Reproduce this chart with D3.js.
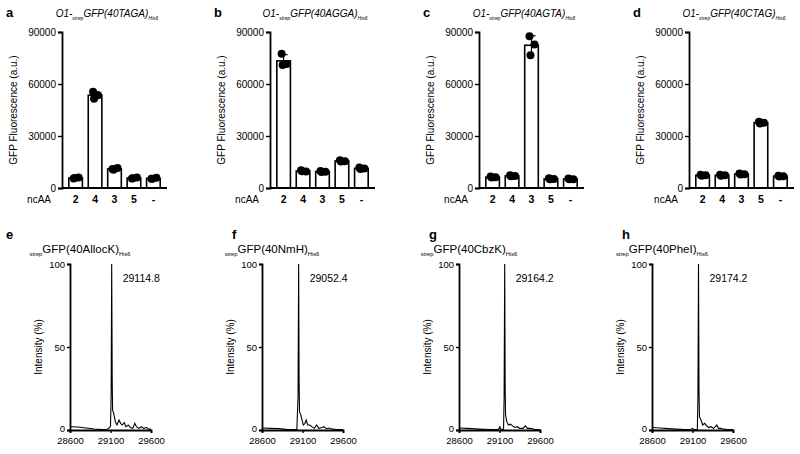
<!DOCTYPE html>
<html>
<head>
<meta charset="utf-8">
<script src="https://cdn.jsdelivr.net/npm/d3@7"></script>
<style>
  body { margin: 0; background: #fff; }
  svg { font-family: "Liberation Sans", Arial, sans-serif; }
</style>
</head>
<body>
<svg id="fig" width="800" height="454"></svg>
<script>
// ---- data ----
const ncaa = ['2', '4', '3', '5', '-'];
const topLetters = ['a', 'b', 'c', 'd'];
const codons = ['TAGA', 'AGGA', 'AGTA', 'CTAG'];
const fluorTicks = [0, 30000, 60000, 90000];

// three replicates per ncAA condition
const repsA = [[5500, 6100, 5700], [55500, 53500, 51500], [11000, 11600, 10500], [5500, 6100, 5600], [5400, 5900, 5300]];
const repsB = [[77500, 71500, 71000], [10300, 9500, 9600], [9800, 9400, 9300], [16000, 15500, 15300], [11800, 11200, 11000]];
const repsC = [[6600, 6200, 6100], [7300, 6900, 6800], [87600, 82800, 76600], [5600, 5200, 5000], [5500, 5100, 5000]];
const repsD = [[7600, 7300, 7100], [7600, 7300, 7100], [8300, 8000, 7800], [38200, 37600, 37200], [7100, 6800, 6600]];
const topReps = [repsA, repsB, repsC, repsD];

const bottomLetters = ['e', 'f', 'g', 'h'];
const residues = ['AllocK', 'NmH', 'CbzK', 'PheI'];
const peakLabels = ['29114.8', '29052.4', '29164.2', '29174.2'];
const massTicks = [28600, 29100, 29600];
const intensityTicks = [0, 50, 100];

// deconvoluted spectra [mass, intensity %]
const specE = [[28600, 2], [28700, 1.8], [28800, 1.2], [28900, 0.6], [29000, 0.2], [29060, 0.3], [29090, 1.5], [29100, 2.5], [29108, 20], [29114.8, 100], [29121, 30], [29126, 12], [29140, 10], [29160, 5], [29180, 3], [29205, 6], [29225, 4], [29245, 3], [29270, 4.5], [29290, 2], [29320, 3], [29345, 1.5], [29375, 1], [29400, 4], [29420, 2], [29450, 1], [29480, 2], [29510, 1], [29545, 1.5], [29570, 0.5], [29600, 0.5]];
const specF = [[28600, 1.2], [28700, 1], [28800, 0.8], [28900, 0.4], [28990, 0.2], [29030, 0.3], [29045, 20], [29052.4, 100], [29058, 30], [29063, 11], [29080, 9], [29095, 6], [29110, 3], [29130, 4], [29145, 6], [29165, 3], [29190, 3], [29215, 2], [29245, 1], [29275, 3], [29300, 1], [29340, 1.5], [29365, 2], [29395, 0.8], [29430, 1.2], [29470, 0.5], [29520, 0.3], [29600, 0.2]];
const specG = [[28600, 1.2], [28700, 1], [28800, 0.7], [28900, 0.4], [29000, 0.2], [29080, 0.2], [29095, 1], [29105, 2], [29115, 0.5], [29150, 0.3], [29157, 20], [29164.2, 100], [29170, 25], [29175, 9], [29190, 5], [29210, 3], [29235, 3.5], [29260, 2.5], [29290, 1.5], [29320, 2], [29350, 1], [29390, 1], [29420, 2.5], [29445, 1], [29480, 1], [29530, 0.4], [29600, 0.2]];
const specH = [[28600, 1.5], [28700, 1.2], [28800, 0.8], [28900, 0.5], [29000, 0.3], [29080, 0.3], [29100, 1], [29115, 0.4], [29160, 0.3], [29167, 20], [29174.2, 100], [29180, 25], [29186, 8], [29205, 6], [29225, 3], [29250, 4], [29275, 2.5], [29300, 1.5], [29330, 2], [29360, 1], [29400, 3], [29420, 1], [29450, 1], [29480, 0.5], [29530, 0.3], [29600, 0.2]];
const spectra = [specE, specF, specG, specH];

// ---- layout ----
const svg = d3.select('#fig');
const topAxisX = [62, 270, 479, 689];
const topY0 = 188, topY1 = 32, topW = 105;
const botAxisX = [70, 262, 459, 652];
const botY0 = 430, botY1 = 264, botW = 81;
const jitter = [-2, 3, -1];

// title with small subscripts ("strep", "His6")
function subTitle(g, x, y, parts, size, italic) {
    const t = g.append('text')
        .attr('x', x).attr('y', y)
        .attr('text-anchor', 'middle')
        .attr('font-size', size)
        .attr('font-style', italic ? 'italic' : 'normal');
    parts.forEach(p => {
        const s = t.append('tspan').text(p.text);
        if (p.sub) s.attr('font-size', size * 0.5).attr('dy', 3);
        else if (p.after) s.attr('dy', -3);
    });
}

// top row: fluorescence bar charts
topReps.forEach((reps, i) => {
    const ax = topAxisX[i];
    const g = svg.append('g').attr('transform', `translate(${ax},0)`);

    const x = d3.scaleBand().domain(ncaa).range([0, topW]).paddingInner(0.3).paddingOuter(0.35);
    const y = d3.scaleLinear().domain([0, 90000]).range([topY0, topY1]);

    const summary = ncaa.map((k, j) => ({
        key: k,
        mean: d3.mean(reps[j]),
        sd: d3.deviation(reps[j]),
        vals: reps[j]
    }));

    // bars
    g.selectAll('.bar').data(summary).enter().append('rect')
        .attr('x', d => x(d.key))
        .attr('y', d => y(d.mean))
        .attr('width', x.bandwidth())
        .attr('height', d => y(0) - y(d.mean))
        .attr('fill', '#fff').attr('stroke', '#000').attr('stroke-width', 1.6);

    // error bars (mean +/- SD)
    summary.forEach(d => {
        const cx = x(d.key) + x.bandwidth() / 2;
        g.append('line').attr('x1', cx).attr('x2', cx)
            .attr('y1', y(d.mean - d.sd)).attr('y2', y(d.mean + d.sd))
            .attr('stroke', '#000').attr('stroke-width', 1.2);
        g.append('line').attr('x1', cx - 4).attr('x2', cx + 4)
            .attr('y1', y(d.mean + d.sd)).attr('y2', y(d.mean + d.sd))
            .attr('stroke', '#000').attr('stroke-width', 1.2);
    });

    // replicate points
    summary.forEach(d => {
        const cx = x(d.key) + x.bandwidth() / 2;
        g.selectAll(null).data(d.vals).enter().append('circle')
            .attr('cx', (v, k) => cx + jitter[k])
            .attr('cy', v => y(v))
            .attr('r', 4)
            .attr('fill', '#000');
    });

    // axes
    const yAxis = d3.axisLeft(y).tickValues(fluorTicks).tickSize(4).tickPadding(2).tickFormat(d3.format('d'));
    const ya = g.append('g').call(yAxis);
    ya.selectAll('text').attr('font-size', 10).attr('fill', '#000').attr('font-family', 'Liberation Sans, Arial, sans-serif');
    ya.select('.domain').attr('stroke-width', 1.8);
    ya.selectAll('.tick line').attr('stroke-width', 1.4);

    g.append('line').attr('x1', 0).attr('x2', topW)
        .attr('y1', topY0).attr('y2', topY0)
        .attr('stroke', '#000').attr('stroke-width', 1.8);

    // category labels
    g.selectAll('.cat').data(ncaa).enter().append('text')
        .attr('x', d => x(d) + x.bandwidth() / 2)
        .attr('y', 203)
        .attr('text-anchor', 'middle')
        .attr('font-size', 10.5).attr('font-weight', 'bold')
        .text(d => d);
    g.append('text').attr('x', -11).attr('y', 203)
        .attr('text-anchor', 'end').attr('font-size', 10)
        .text('ncAA');

    // y label
    g.append('text')
        .attr('transform', `translate(-45,${(topY0 + topY1) / 2}) rotate(-90)`)
        .attr('text-anchor', 'middle').attr('font-size', 10)
        .text('GFP Fluorescence (a.u.)');

    // title and letter
    subTitle(g, 45, 17, [
        { text: 'O1-' }, { text: 'strep', sub: true }, { text: 'GFP(40' + codons[i] + ')', after: true },
        { text: 'His6', sub: true }
    ], 10, true);
    g.append('text').attr('x', -56).attr('y', 17)
        .attr('font-size', 13).attr('font-weight', 'bold')
        .text(topLetters[i]);
});

// bottom row: mass spectra
spectra.forEach((spec, i) => {
    const ax = botAxisX[i];
    const g = svg.append('g').attr('transform', `translate(${ax},0)`);

    const x = d3.scaleLinear().domain([28600, 29600]).range([0, botW]);
    const y = d3.scaleLinear().domain([0, 100]).range([botY0, botY1]);

    const line = d3.line().x(d => x(d[0])).y(d => y(d[1]));
    g.append('path').datum(spec)
        .attr('d', line)
        .attr('fill', 'none').attr('stroke', '#000').attr('stroke-width', 1.1);

    const ya = g.append('g').call(d3.axisLeft(y).tickValues(intensityTicks).tickSize(3).tickPadding(2));
    const xa = g.append('g').attr('transform', `translate(0,${botY0})`)
        .call(d3.axisBottom(x).tickValues(massTicks).tickSize(3).tickPadding(4).tickFormat(d3.format('d')));
    [ya, xa].forEach(a => {
        a.selectAll('text').attr('font-size', 9.5).attr('fill', '#000').attr('font-family', 'Liberation Sans, Arial, sans-serif');
        a.select('.domain').attr('stroke-width', 1.8);
        a.selectAll('.tick line').attr('stroke-width', 1.4);
    });
    // keep the y "0" label clear of the first mass label
    ya.selectAll('text').filter(d => d === 0).attr('dy', '0.15em');

    g.append('text')
        .attr('transform', `translate(-28,${(botY0 + botY1) / 2}) rotate(-90)`)
        .attr('text-anchor', 'middle').attr('font-size', 10)
        .text('Intensity (%)');

    const peak = spec.reduce((a, b) => (b[1] > a[1] ? b : a));
    g.append('text').attr('x', x(peak[0]) + 11).attr('y', 282)
        .attr('font-size', 10.5).text(peakLabels[i]);

    subTitle(g, 10, 253, [
        { text: 'strep', sub: true }, { text: 'GFP(40' + residues[i] + ')', after: true },
        { text: 'His6', sub: true }
    ], 11.5, false);

    g.append('text').attr('x', i === 0 ? -64 : -30).attr('y', 239)
        .attr('font-size', 13).attr('font-weight', 'bold')
        .text(bottomLetters[i]);
});
</script>
</body>
</html>
